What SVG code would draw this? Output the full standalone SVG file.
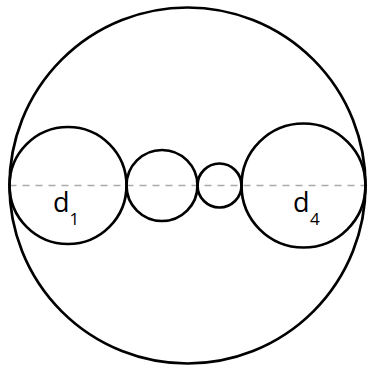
<svg xmlns="http://www.w3.org/2000/svg" width="368" height="368" viewBox="0 0 368 368">
<style>
.c{fill:none;stroke:#000;stroke-width:2.7}
.d{stroke:#aaa;stroke-width:1.6;stroke-dasharray:7 6}
.t{font-family:"Open Sans","Noto Sans",sans-serif;fill:#000}
.m{font-size:27px}
.s{font-size:17px}
</style>
<rect width="368" height="368" fill="#fff"/>
<g id="connectors">
<line class="d" x1="9.5" y1="185.5" x2="365.5" y2="185.5"/>
</g>
<g id="outer"><circle class="c" cx="187.5" cy="185.5" r="178"/></g>
<g id="d1"><circle class="c" cx="68" cy="185.5" r="58.5"/>
<text class="t" x="53" y="212"><tspan class="m">d</tspan><tspan class="s" x="69.5" y="224.5">1</tspan></text></g>
<g id="d2"><circle class="c" cx="162" cy="185.5" r="35.5"/></g>
<g id="d3"><circle class="c" cx="219.5" cy="185.5" r="22"/></g>
<g id="d4"><circle class="c" cx="303.5" cy="185.5" r="62"/>
<text class="t" x="293" y="212"><tspan class="m">d</tspan><tspan class="s" x="310" y="224.5">4</tspan></text></g>
</svg>
